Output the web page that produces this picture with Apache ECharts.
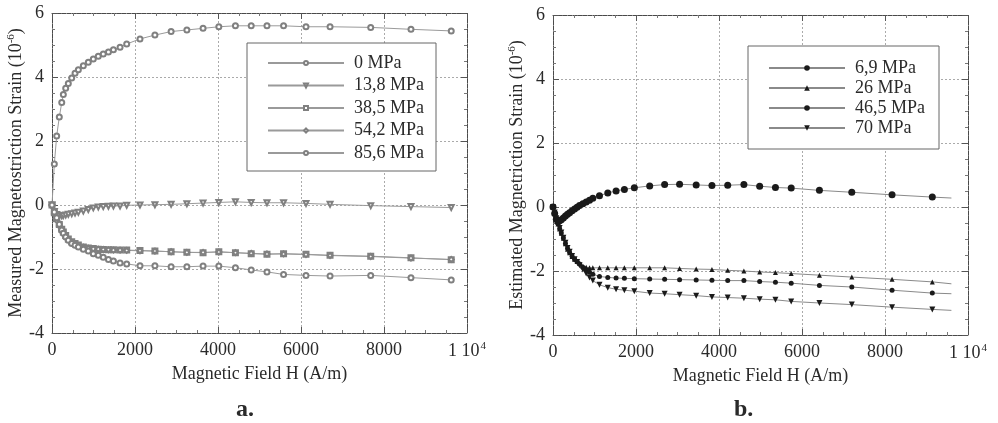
<!DOCTYPE html>
<html>
<head>
<meta charset="utf-8">
<script src="https://cdn.jsdelivr.net/npm/echarts@6/dist/echarts.min.js"></script>
<style>html,body{margin:0;padding:0;background:#fff;}#c{width:998px;height:423px;}</style>
</head>
<body>
<div id="c"></div>
<script>
// ---- Data ----
const xTicks = [0, 2000, 4000, 6000, 8000, 10000];
const yTicks = [-4, -2, 0, 2, 4, 6];

// Panel a: measured
const hLeft = [0, 56, 113, 176, 235, 273, 330, 393, 475, 555, 635, 755, 875, 995, 1115, 1235, 1360, 1480, 1640, 1800, 2120, 2480, 2870, 3250, 3640, 4020, 4420, 4800, 5180, 5580, 6120, 6700, 7680, 8650, 9620];
const m0 = [0, 1.28, 2.16, 2.75, 3.2, 3.45, 3.65, 3.8, 3.97, 4.12, 4.23, 4.35, 4.46, 4.56, 4.65, 4.72, 4.78, 4.85, 4.93, 5.03, 5.19, 5.31, 5.42, 5.47, 5.52, 5.57, 5.6, 5.6, 5.6, 5.6, 5.57, 5.57, 5.55, 5.49, 5.44];
const m13_8 = [0, -0.2, -0.3, -0.34, -0.34, -0.33, -0.31, -0.29, -0.27, -0.25, -0.23, -0.19, -0.14, -0.09, -0.06, -0.05, -0.04, -0.03, -0.03, -0.01, 0, 0.01, 0.02, 0.04, 0.06, 0.08, 0.1, 0.08, 0.07, 0.07, 0.05, 0.02, -0.02, -0.05, -0.08];
const m38_5 = [0, -0.24, -0.43, -0.61, -0.76, -0.84, -0.95, -1.06, -1.15, -1.2, -1.25, -1.31, -1.34, -1.36, -1.38, -1.39, -1.4, -1.4, -1.41, -1.41, -1.42, -1.44, -1.46, -1.48, -1.49, -1.46, -1.49, -1.52, -1.54, -1.52, -1.54, -1.57, -1.6, -1.65, -1.71];
const m54_2 = [0, -0.28, -0.48, -0.66, -0.8, -0.88, -0.98, -1.08, -1.17, -1.23, -1.27, -1.32, -1.35, -1.37, -1.38, -1.39, -1.4, -1.41, -1.41, -1.42, -1.43, -1.44, -1.46, -1.48, -1.48, -1.47, -1.49, -1.51, -1.53, -1.53, -1.55, -1.58, -1.61, -1.66, -1.7];
const m85_6 = [0, -0.22, -0.4, -0.6, -0.78, -0.88, -1.0, -1.1, -1.2, -1.26, -1.31, -1.38, -1.44, -1.52, -1.57, -1.63, -1.7, -1.75, -1.81, -1.84, -1.9, -1.9, -1.93, -1.93, -1.91, -1.91, -1.96, -2.03, -2.09, -2.17, -2.2, -2.22, -2.2, -2.27, -2.34];
const namesLeft = ['0 MPa', '13,8 MPa', '38,5 MPa', '54,2 MPa', '85,6 MPa'];

// Panel b: estimated
const hRight = [0, 40, 80, 120, 160, 200, 250, 300, 350, 400, 460, 520, 580, 640, 720, 800, 880, 960, 1120, 1320, 1520, 1720, 1960, 2330, 2690, 3050, 3450, 3830, 4210, 4600, 4980, 5360, 5740, 6420, 7200, 8170, 9140, 9600];
const e6_9 = [0, -0.2, -0.38, -0.46, -0.43, -0.4, -0.34, -0.28, -0.23, -0.18, -0.12, -0.06, -0.01, 0.05, 0.1, 0.16, 0.21, 0.27, 0.35, 0.44, 0.5, 0.55, 0.6, 0.66, 0.7, 0.71, 0.69, 0.67, 0.68, 0.7, 0.65, 0.61, 0.59, 0.52, 0.46, 0.38, 0.31, 0.28];
const e26 = [0, -0.18, -0.37, -0.53, -0.69, -0.82, -0.98, -1.15, -1.32, -1.43, -1.55, -1.63, -1.7, -1.76, -1.84, -1.88, -1.9, -1.9, -1.9, -1.9, -1.9, -1.9, -1.9, -1.9, -1.9, -1.92, -1.94, -1.95, -1.98, -2.0, -2.03, -2.05, -2.08, -2.13, -2.19, -2.26, -2.34, -2.4];
const e46_5 = [0, -0.18, -0.36, -0.52, -0.68, -0.81, -0.97, -1.14, -1.3, -1.42, -1.54, -1.63, -1.71, -1.78, -1.88, -1.97, -2.04, -2.1, -2.17, -2.2, -2.22, -2.23, -2.24, -2.25, -2.26, -2.27, -2.28, -2.29, -2.3, -2.3, -2.33, -2.35, -2.38, -2.45, -2.5, -2.6, -2.69, -2.71];
const e70 = [0, -0.17, -0.35, -0.5, -0.66, -0.8, -0.96, -1.12, -1.28, -1.4, -1.53, -1.63, -1.72, -1.82, -1.95, -2.08, -2.2, -2.3, -2.43, -2.52, -2.57, -2.6, -2.63, -2.69, -2.71, -2.74, -2.77, -2.81, -2.83, -2.85, -2.88, -2.9, -2.95, -3.0, -3.05, -3.13, -3.2, -3.23];
const namesRight = ['6,9 MPa', '26 MPa', '46,5 MPa', '70 MPa'];

// ---- Chart ----
const FONT = "'Liberation Serif', 'Times New Roman', serif";
const TXT = '#2a2a2a';
const chart = echarts.init(document.getElementById('c'), null, {renderer: 'canvas'});

function pairs(h, v, lastNoMarker) {
  return h.map((x, i) => {
    if (lastNoMarker && i === h.length - 1) return {value: [x, v[i]], symbol: 'none'};
    return [x, v[i]];
  });
}

const frameLine = {show: true, onZero: false, lineStyle: {color: '#4a4a4a', width: 1, type: [4, 1]}};
const tickIn = {show: true, inside: true, length: 6, lineStyle: {color: '#555'}};
const minorIn = {show: true, splitNumber: 4, length: 3, lineStyle: {color: '#777'}};

function xMain(gi) {
  return {
    gridIndex: gi, type: 'value', position: 'bottom', min: xTicks[0], max: xTicks[xTicks.length - 1], interval: 2000,
    axisLine: frameLine, axisTick: tickIn, minorTick: minorIn,
    splitLine: {show: true, lineStyle: {color: '#aaa', type: [2, 2]}},
    axisLabel: {
      show: true, margin: 8, fontFamily: FONT, fontSize: 18, color: TXT, showMaxLabel: true, showMinLabel: true,
      formatter: v => v === 10000 ? '{n|1 10}{s|4}' : String(v),
      rich: {n: {fontFamily: FONT, fontSize: 18, color: TXT}, s: {fontFamily: FONT, fontSize: 11, color: TXT, padding: [0, 0, 9, 1]}}
    },
    name: 'Magnetic Field H (A/m)', nameLocation: 'middle', nameGap: 30,
    nameTextStyle: {fontFamily: FONT, fontSize: 18, color: TXT}
  };
}
function xTop(gi) {
  return {
    gridIndex: gi, type: 'value', position: 'top', min: 0, max: 10000, interval: 2000,
    axisLine: frameLine, axisTick: tickIn, minorTick: minorIn, splitLine: {show: false}, axisLabel: {show: false}
  };
}
function yMain(gi, title) {
  return {
    gridIndex: gi, type: 'value', position: 'left', min: yTicks[0], max: yTicks[yTicks.length - 1], interval: 2,
    axisLine: frameLine, axisTick: tickIn, minorTick: minorIn,
    splitLine: {show: true, lineStyle: {color: '#aaa', type: [2, 2]}},
    axisLabel: {show: true, margin: 8, fontFamily: FONT, fontSize: 18, color: TXT},
    name: '{a|' + title + ' (10}{s|-6}{a|)}', nameLocation: 'middle', nameGap: 26, nameRotate: 90,
    nameTextStyle: {
      fontFamily: FONT, fontSize: 18, color: TXT,
      rich: {a: {fontFamily: FONT, fontSize: 18, color: TXT}, s: {fontFamily: FONT, fontSize: 11, color: TXT, padding: [0, 0, 9, 0]}}
    }
  };
}
function yRight(gi) {
  return {
    gridIndex: gi, type: 'value', position: 'right', min: -4, max: 6, interval: 2,
    axisLine: frameLine, axisTick: tickIn, minorTick: minorIn, splitLine: {show: false}, axisLabel: {show: false}
  };
}

function leftSeries(name, data, symbol, size, rot) {
  return {
    name, type: 'line', xAxisIndex: 0, yAxisIndex: 0, data: pairs(hLeft, data, false),
    symbol, symbolSize: size, symbolRotate: rot || 0, showAllSymbol: true,
    lineStyle: {color: '#9a9a9a', width: 1},
    itemStyle: {color: '#808080', borderWidth: 1},
    emphasis: {disabled: true}
  };
}
function rightSeries(name, data, symbol, size, rot) {
  return {
    name, type: 'line', xAxisIndex: 2, yAxisIndex: 2, data: pairs(hRight, data, true),
    symbol, symbolSize: size, symbolRotate: rot || 0, showAllSymbol: true,
    lineStyle: {color: '#8a8a8a', width: 1},
    itemStyle: {color: '#1a1a1a', borderWidth: 0},
    emphasis: {disabled: true}
  };
}

const legendText = {fontFamily: FONT, fontSize: 18, color: TXT, padding: [0, 0, 0, 5]};

const option = {
  backgroundColor: '#ffffff',
  animation: false,
  grid: [
    {left: 52, top: 13, width: 415, height: 320, containLabel: false},
    {left: 553, top: 15, width: 415, height: 320, containLabel: false}
  ],
  xAxis: [xMain(0), xTop(0), xMain(1), xTop(1)],
  yAxis: [yMain(0, 'Measured Magnetostriction Strain'), yRight(0), yMain(1, 'Estimated Magnetriction Strain'), yRight(1)],
  legend: [
    {
      data: namesLeft, orient: 'vertical', left: 247, top: 43, itemWidth: 76, itemHeight: 5, itemGap: 4.5,
      padding: [11, 12, 9, 20], borderColor: '#666', borderWidth: 1, backgroundColor: '#fff',
      textStyle: legendText, selectedMode: false
    },
    {
      data: namesRight, orient: 'vertical', left: 748, top: 46, itemWidth: 76, itemHeight: 7, itemGap: 2,
      padding: [13, 14, 12, 20], borderColor: '#666', borderWidth: 1, backgroundColor: '#fff',
      textStyle: legendText, selectedMode: false
    }
  ],
  graphic: [
    {type: 'text', left: 236, top: 398, style: {text: 'a.', font: 'bold 24px ' + FONT, fill: TXT}},
    {type: 'text', left: 734, top: 398, style: {text: 'b.', font: 'bold 24px ' + FONT, fill: TXT}}
  ],
  series: [
    leftSeries(namesLeft[0], m0, 'emptyCircle', 5),
    leftSeries(namesLeft[1], m13_8, 'emptyTriangle', 5, 180),
    leftSeries(namesLeft[2], m38_5, 'emptyRect', 5),
    leftSeries(namesLeft[3], m54_2, 'emptyDiamond', 5),
    leftSeries(namesLeft[4], m85_6, 'emptyCircle', 5),
    rightSeries(namesRight[0], e6_9, 'circle', 7),
    rightSeries(namesRight[1], e26, 'triangle', 5),
    rightSeries(namesRight[2], e46_5, 'circle', 5),
    rightSeries(namesRight[3], e70, 'triangle', 6, 180)
  ]
};
chart.setOption(option);
</script>
</body>
</html>
